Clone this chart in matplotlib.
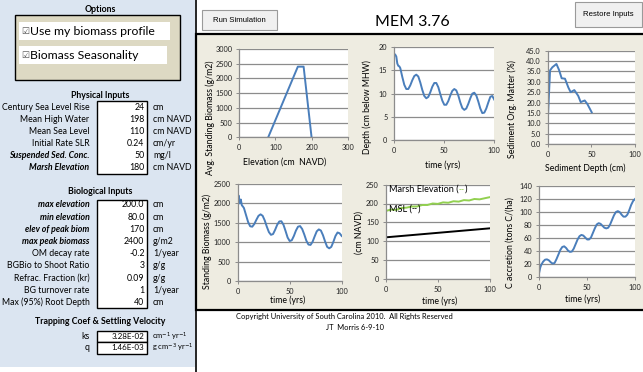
import matplotlib.pyplot as plt
from matplotlib.patches import Rectangle
from matplotlib.lines import Line2D

W, H = 643, 372
plt.rcParams['font.family'] = ['Lato', 'DejaVu Sans']

# ---- input table ----
phys_labels = ['Century Sea Level Rise', 'Mean High Water', 'Mean Sea Level',
               'Initial Rate SLR', 'Suspended Sed. Conc.', 'Marsh Elevation']
phys_values = ['24', '198', '110', '0.24', '50', '180']
phys_units = ['cm', 'cm NAVD', 'cm NAVD', 'cm/yr', 'mg/l', 'cm NAVD']
phys_bold = [False, False, False, False, True, True]

bio_labels = ['max elevation', 'min elevation', 'elev of peak biom', 'max peak biomass',
              'OM decay rate', 'BGBio to Shoot Ratio', 'Refrac. Fraction (kr)',
              'BG turnover rate', 'Max (95%) Root Depth']
bio_values = ['200.0', '80.0', '170', '2400', '-0.2', '3', '0.09', '1', '40']
bio_units = ['cm', 'cm', 'cm', 'g/m2', '1/year', 'g/g', 'g/g', '1/year', 'cm']
bio_bold = [True, True, True, True, False, False, False, False, False]

trap_labels = ['ks', 'q']
trap_values = ['3.28E-02', '1.46E-03']
trap_units = [r'cm$^{-1}$ yr$^{-1}$', r'g cm$^{-3}$ yr$^{-1}$']

# ---- chart data ----
prof_elev = [80, 162, 178, 200]
prof_biom = [0, 2400, 2400, 0]

depth_t = [1, 2, 3, 4, 5, 6, 8, 10, 12, 14, 16, 18, 20, 22, 24, 26, 28, 30, 32, 34,
           36, 38, 40, 42, 44, 46, 48, 50, 52, 54, 56, 58, 60, 62, 64, 66, 68, 70,
           72, 74, 76, 78, 80, 82, 84, 86, 88, 90, 92, 94, 96, 98, 100]
depth_v = [18.4, 18.0, 16.5, 16.0, 15.9, 15.5, 13.6, 11.9, 11.0, 11.0, 11.8, 12.9,
           13.8, 14.1, 13.7, 12.4, 10.8, 9.5, 9.0, 9.3, 10.3, 11.5, 12.3, 12.3, 11.4,
           9.9, 8.5, 7.6, 7.6, 8.4, 9.6, 10.6, 11.0, 10.7, 9.6, 8.1, 6.9, 6.5, 6.8,
           7.8, 9.0, 10.0, 10.2, 9.6, 8.3, 6.8, 5.8, 5.9, 6.8, 8.1, 9.3, 9.5, 8.7]

om_depth = [0.4, 2.7, 5.3, 10, 13, 16, 19.8, 23.7, 26.3, 30.5, 35, 37.8, 42.4, 45.4, 50.4]
om_pct = [14, 35.5, 37, 38.6, 35.7, 31.7, 31.5, 27.2, 25, 26, 23.2, 20.2, 21, 19.3, 15.3]

biom_t = [0, 1, 2, 3, 4, 5, 6, 8, 10, 12, 14, 16, 18, 20, 22, 24, 26, 28, 30, 32, 34,
          36, 38, 40, 42, 44, 46, 48, 50, 52, 54, 56, 58, 60, 62, 64, 66, 68, 70, 72,
          74, 76, 78, 80, 82, 84, 86, 88, 90, 92, 94, 96, 98, 100]
biom_v = [2050, 2200, 2000, 2100, 1950, 1920, 1880, 1700, 1520, 1410, 1400, 1470,
          1580, 1680, 1718, 1680, 1560, 1400, 1260, 1190, 1210, 1320, 1450, 1535,
          1540, 1450, 1290, 1120, 1030, 1050, 1160, 1300, 1400, 1415, 1340, 1200,
          1040, 940, 930, 1010, 1150, 1280, 1330, 1300, 1180, 1020, 880, 842, 880,
          1010, 1160, 1250, 1230, 1160]

elev_t = [0, 5, 10, 15, 20, 25, 30, 35, 40, 45, 50, 55, 60, 65, 70, 75, 80, 85, 90, 95, 100]
marsh_elev = [180, 184, 183, 188, 189, 192, 192, 196, 196, 200, 199, 203, 202, 206,
              205, 209, 208, 212, 211, 214, 217]
msl_t = [0, 100]
msl_v = [110, 134]

cacc_t = [0, 1, 2, 4, 6, 8, 10, 12, 14, 16, 18, 20, 22, 24, 26, 28, 30, 32, 34, 36,
          38, 40, 42, 44, 46, 48, 50, 52, 54, 56, 58, 60, 62, 64, 66, 68, 70, 72, 74,
          76, 78, 80, 82, 84, 86, 88, 90, 92, 94, 96, 98, 100]
cacc_v = [8, 15, 19, 24, 27, 27.5, 26, 23, 21, 22, 28, 35, 42, 46.5, 47.5, 45, 41, 39,
          39.5, 44, 51, 58, 63, 65, 64, 61, 58, 58, 61, 68, 75, 81, 83, 82, 79, 76, 75,
          76, 81, 88, 95, 100, 101.5, 100, 96, 93, 93, 96, 103, 111, 117, 120]

BLUE = '#4a7ebb'
GRID = '#8c8c8c'

fig = plt.figure(figsize=(W / 100, H / 100), dpi=100)
fig.patch.set_facecolor('white')


def fx(x):
    return x / W


def fy(y):
    return 1 - y / H


def box(x0, y0, x1, y1, **kw):
    kw.setdefault('zorder', 0.5)
    fig.add_artist(Rectangle((fx(x0), fy(y1)), (x1 - x0) / W, (y1 - y0) / H,
                             transform=fig.transFigure, **kw))


def txt(x, y, s, **kw):
    kw.setdefault('va', 'center')
    kw.setdefault('fontsize', 6.3)
    return fig.text(fx(x), fy(y), s, **kw)


# backgrounds
box(0, 0, 195, 367, facecolor='#dbe5f1', edgecolor='none')
box(196, 34, 650, 310, facecolor='#eeece1', edgecolor='black', linewidth=1.6)
fig.add_artist(Line2D([fx(196), fx(196)], [0, 1], color='black', lw=1.2,
                      transform=fig.transFigure, zorder=0.6))

# options
txt(100, 9, 'Options', ha='center', fontweight='bold')
box(15, 15, 180, 80, facecolor='#ddd9c3', edgecolor='black', linewidth=1)
box(19, 22, 170, 40, facecolor='white', edgecolor='none')
box(19, 46, 167, 64, facecolor='white', edgecolor='none')
txt(21, 31.5, '\u2611', fontsize=6.5, family='DejaVu Sans', color='#555555')
txt(21, 55.5, '\u2611', fontsize=6.5, family='DejaVu Sans', color='#555555')
txt(30, 31.5, 'Use my biomass profile', fontsize=8.8)
txt(29.5, 55.5, 'Biomass Seasonality', fontsize=8.8)


def table(labels, values, units, bolds, y_first, step, box_top, box_bot):
    box(97, box_top, 146.7, box_bot, facecolor='white', edgecolor='black', linewidth=1)
    for i, (lab, val, un, b) in enumerate(zip(labels, values, units, bolds)):
        y = y_first + i * step
        if b:
            txt(89.5, y, lab, ha='right', fontweight='bold', style='italic')
        else:
            txt(89.5, y, lab, ha='right')
        txt(144.5, y, val, ha='right')
        txt(153, y, un)


txt(100, 95, 'Physical Inputs', ha='center', fontweight='bold')
table(phys_labels, phys_values, phys_units, phys_bold, 107.3, 12.1, 100.5, 174)

txt(100, 192, 'Biological Inputs', ha='center', fontweight='bold')
table(bio_labels, bio_values, bio_units, bio_bold, 205, 12.2, 200, 308.3)

txt(100, 321.5, 'Trapping Coef & Settling Velocity', ha='center', fontweight='bold')
for i in range(2):
    y = 336.5 + i * 11.5
    box(97, y - 5.8, 146.7, y + 5.8, facecolor='white', edgecolor='black', linewidth=1)
    txt(89.5, y, trap_labels[i], ha='right')
    txt(144.5, y, trap_values[i], ha='right', fontsize=5.8)
    txt(152, y, trap_units[i], fontsize=5.4)

# top bar
box(202, 10, 277, 30, facecolor='#f0f0f0', edgecolor='#9a9a9a', linewidth=0.8)
txt(239.5, 20, 'Run Simulation', ha='center', fontsize=5.6, family='Liberation Sans')
box(575, 2, 642, 27, facecolor='#f0f0f0', edgecolor='#9a9a9a', linewidth=0.8)
txt(608.5, 14, 'Restore Inputs', ha='center', fontsize=5.6, family='Liberation Sans')
txt(412, 22, 'MEM 3.76', ha='center', fontsize=11.5)

txt(344, 316, 'Copyright University of South Carolina 2010.  All Rights Reserved',
    ha='center', fontsize=5.4)
txt(355, 328, 'JT  Morris 6-9-10', ha='center', fontsize=5.4)


def chart(x0, y0, x1, y1, xlim, xticks, ylim, yticks, yfmt='{:g}'):
    ax = fig.add_axes([fx(x0), fy(y1), (x1 - x0) / W, (y1 - y0) / H])
    ax.set_zorder(3)
    ax.set_facecolor('white')
    ax.set_xlim(*xlim)
    ax.set_ylim(*ylim)
    ax.set_xticks(xticks)
    ax.set_yticks(yticks)
    ax.set_yticklabels([yfmt.format(v) for v in yticks])
    for s in ['top', 'right']:
        ax.spines[s].set_visible(False)
    for s in ['left', 'bottom']:
        ax.spines[s].set_color(GRID)
        ax.spines[s].set_linewidth(0.9)
    ax.grid(axis='y', color=GRID, linewidth=0.9)
    ax.set_axisbelow(True)
    ax.tick_params(labelsize=5.3, length=2, width=0.7, color=GRID, pad=3,
                   labelcolor='#222222')
    return ax


ax1 = chart(239.3, 49, 347.7, 137.3, (0, 300), [0, 100, 200, 300], (0, 3000),
            list(range(0, 3001, 500)))
ax1.plot(prof_elev, prof_biom, color=BLUE, lw=1.4)
txt(285, 162, 'Elevation (cm  NAVD)', ha='center')
txt(210, 118, 'Avg. Standing Biomass (g/m2)', ha='center', rotation=90)

ax2 = chart(394.3, 47.3, 494.3, 140, (0, 100), [0, 50, 100], (0, 20), [0, 5, 10, 15, 20])
ax2.plot(depth_t, depth_v, color=BLUE, lw=1.4)
txt(443, 165, 'time (yrs)', ha='center')
txt(367, 107, 'Depth (cm below MHW)', ha='center', rotation=90)

ax3 = chart(547.7, 50.7, 635, 144, (0, 100), [0, 50, 100], (0, 45),
            [0, 5, 10, 15, 20, 25, 30, 35, 40, 45], yfmt='{:.1f}')
ax3.plot(om_depth, om_pct, color=BLUE, lw=1.4)
txt(585, 168, 'Sediment Depth (cm)', ha='center')
txt(512, 109, 'Sediment Org. Matter (%)', ha='center', rotation=90)

ax4 = chart(237.7, 184, 341.7, 281, (0, 100), [0, 50, 100], (0, 2500),
            list(range(0, 2501, 500)))
ax4.plot(biom_t, biom_v, color=BLUE, lw=1.4)
txt(288, 300, 'time (yrs)', ha='center')
txt(207, 241, 'Standing Biomass (g/m2)', ha='center', rotation=90)

ax5 = chart(385.7, 184.7, 490, 278.7, (0, 100), [0, 50, 100], (0, 250),
            list(range(0, 251, 50)))
ax5.plot(elev_t, marsh_elev, color='#92d050', lw=1.4)
ax5.plot(msl_t, msl_v, color='black', lw=1.4)
t1 = ax5.text(3, 238, 'Marsh Elevation (', fontsize=6.6, va='center', zorder=5)
t2 = ax5.annotate('--', xy=(1, 0), xycoords=t1, va='bottom', fontsize=6.0,
                  family='DejaVu Sans', color='#92d050', zorder=5)
ax5.annotate(')', xy=(1, 0), xycoords=t2, va='bottom', fontsize=6.6, zorder=5)
t3 = ax5.text(3, 186, 'MSL (', fontsize=6.6, va='center', zorder=5)
t4 = ax5.annotate('--', xy=(1, 0), xycoords=t3, va='bottom', fontsize=6.0,
                  family='DejaVu Sans', zorder=5)
ax5.annotate(')', xy=(1, 0), xycoords=t4, va='bottom', fontsize=6.6, zorder=5)
txt(440, 301, 'time (yrs)', ha='center')
txt(359, 232, '(cm NAVD)', ha='center', rotation=90)

ax6 = chart(539.3, 186, 635, 277.3, (0, 100), [0, 50, 100], (0, 140),
            list(range(0, 141, 20)))
ax6.plot(cacc_t, cacc_v, color=BLUE, lw=1.4)
txt(583, 299, 'time (yrs)', ha='center')
txt(510, 243, 'C accretion (tons C/(ha)', ha='center', rotation=90)

fig.savefig('out.png', dpi=100, facecolor='white')
